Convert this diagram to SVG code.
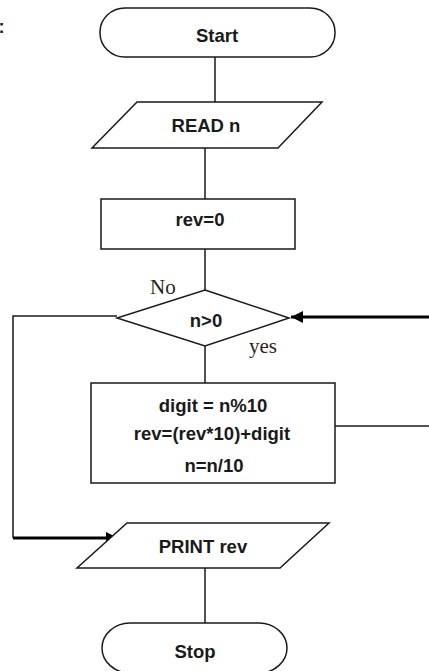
<svg xmlns="http://www.w3.org/2000/svg" width="429" height="671" viewBox="0 0 429 671">
<style>
.shape{fill:#fff;stroke:#1a1a1a;stroke-width:1.5}
.t{font-family:"Liberation Sans",Arial,sans-serif;font-weight:bold;font-size:18.5px;fill:#1a1a1a;text-anchor:middle}
.lbl{font-family:"Liberation Serif","Times New Roman",serif;font-size:21px;fill:#2a1f1a}
.c{fill:none;stroke:#1a1a1a;stroke-width:1.5}
.thick{fill:none;stroke:#000;stroke-width:3}
</style>
<defs>
<marker id="ah" viewBox="0 0 10 10" refX="10" refY="5" markerWidth="4" markerHeight="4" orient="auto" markerUnits="strokeWidth">
<path d="M0,0 L10,5 L0,10 z" fill="#000"/>
</marker>
</defs>
<text x="-1.5" y="33" class="t" style="text-anchor:start">:</text>
<g id="connectors">
<line class="c" x1="215" y1="57" x2="215" y2="102"/>
<line class="c" x1="205" y1="148" x2="205" y2="199"/>
<line class="c" x1="205" y1="249" x2="205" y2="290"/>
<line class="c" x1="205" y1="346" x2="205" y2="383"/>
<line class="c" x1="205" y1="568" x2="205" y2="623"/>
<polyline class="c" points="117,316 13,316 13,538"/>
<polyline class="thick" points="13,538 118,538" marker-end="url(#ah)"/>
<line class="thick" x1="429" y1="317" x2="291" y2="317" marker-end="url(#ah)"/>
<line class="c" x1="335" y1="426" x2="429" y2="426"/>
<text class="lbl" x="150" y="294">No</text>
<text class="lbl" x="249" y="353" textLength="28" lengthAdjust="spacingAndGlyphs">yes</text>
</g>
<g id="start">
<rect class="shape" x="100" y="8" width="235" height="49" rx="25" ry="24"/>
<text class="t" x="217" y="42">Start</text>
</g>
<g id="read">
<polygon class="shape" points="137,102 322,102 278,148 92,148"/>
<text class="t" x="206" y="132">READ  n</text>
</g>
<g id="init">
<rect class="shape" x="101" y="199" width="194" height="50"/>
<text class="t" x="200" y="226">rev=0</text>
</g>
<g id="decision">
<polygon class="shape" points="205,290 289,318 205,346 117,318"/>
<text class="t" x="206" y="327">n&gt;0</text>
</g>
<g id="process">
<rect class="shape" x="91" y="383" width="244" height="100"/>
<text class="t" x="213" y="412">digit = n%10</text>
<text class="t" x="212" y="440">rev=(rev*10)+digit</text>
<text class="t" x="214" y="472">n=n/10</text>
</g>
<g id="print">
<polygon class="shape" points="127,523 329,523 280,568 77,568"/>
<text class="t" x="203" y="553">PRINT  rev</text>
</g>
<g id="stop">
<rect class="shape" x="102" y="623" width="185" height="50" rx="28" ry="25"/>
<text class="t" x="195" y="658">Stop</text>
</g>
</svg>
